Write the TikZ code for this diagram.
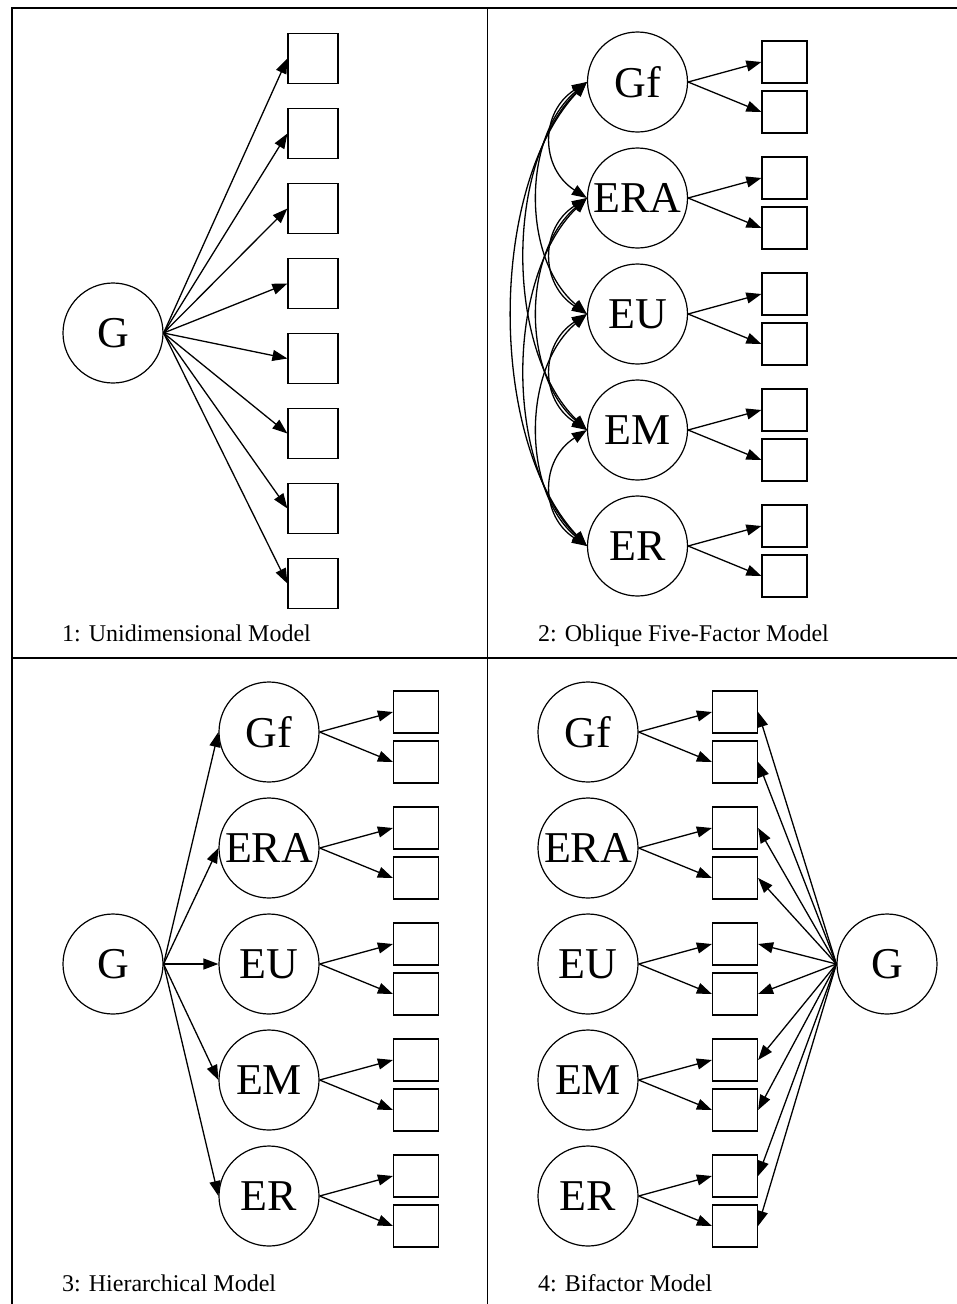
\documentclass[tikz,border=0pt]{standalone}
\usepackage{fontspec}
\setmainfont{Liberation Serif}
\usetikzlibrary{arrows.meta}
\begin{document}
\begin{tikzpicture}[x=1pt,y=-1pt,
  lat/.style={draw,circle,minimum size=100pt,inner sep=0pt,line width=1.2pt,font=\fontsize{44}{44}\selectfont},
  obs/.style={draw,rectangle,minimum width=45pt,minimum height=42pt,inner sep=0pt,line width=1.2pt},
  obsbig/.style={obs,minimum width=50pt,minimum height=50pt},
  load/.style={-{Triangle[length=15pt,width=11pt]},line width=1.3pt},
  cov/.style={{Triangle[length=15pt,width=11pt]}-{Triangle[length=15pt,width=11pt]},line width=1.3pt},
  framebox/.style={line width=1.6pt},
  paneltitle/.style={inner sep=0pt,anchor=base west,font=\fontsize{24}{28}\selectfont}]
\useasboundingbox (0,0) rectangle (957,1304);
% frame
\draw[framebox] (12,1304) -- (12,8) -- (957,8);
\draw[framebox] (487.5,8) -- (487.5,1304);
\draw[framebox] (12,658) -- (957,658);
% panel 1
\node[lat] (p1G) at (113,333) {G};
\foreach \k in {1,...,8} {
  \node[obsbig] (p1b\k) at (313,{58.5+75*(\k-1)}) {};
  \draw[load] (p1G.east) -- (p1b\k.west);
}
\node[paneltitle] (t1) at (62,641) {1: Unidimensional Model};
% panel 2
\foreach \t [count=\i] in {Gf,ERA,EU,EM,ER} {
  \node[lat] (p2f\i) at (637.5,{82+116*(\i-1)}) {\t};
  \node[obs] (p2a\i) at (784.5,{62+116*(\i-1)}) {};
  \node[obs] (p2b\i) at (784.5,{112+116*(\i-1)}) {};
  \draw[load] (p2f\i.east) -- (p2a\i.west);
  \draw[load] (p2f\i.east) -- (p2b\i.west);
}
\foreach \i/\j/\c/\h in {1/2/47/30,2/3/47/30,3/4/47/30,4/5/47/30,1/3/65/55,2/4/65/55,3/5/65/55,1/4/82/80,2/5/82/80,1/5/99/105}
  \draw[cov] (p2f\i.west) .. controls +(-\c,\h) and +(-\c,-\h) .. (p2f\j.west);
\node[paneltitle] (t2) at (538,641) {2: Oblique Five-Factor Model};
% panel 3
\node[lat] (p3G) at (113,964) {G};
\foreach \t [count=\i] in {Gf,ERA,EU,EM,ER} {
  \node[lat] (p3f\i) at (269,{732+116*(\i-1)}) {\t};
  \node[obs] (p3a\i) at (416,{712+116*(\i-1)}) {};
  \node[obs] (p3b\i) at (416,{762+116*(\i-1)}) {};
  \draw[load] (p3f\i.east) -- (p3a\i.west);
  \draw[load] (p3f\i.east) -- (p3b\i.west);
  \draw[load] (p3G.east) -- (p3f\i.west);
}
\node[paneltitle] (t3) at (62,1291) {3: Hierarchical Model};
% panel 4
\node[lat] (p4G) at (887,964) {G};
\foreach \t [count=\i] in {Gf,ERA,EU,EM,ER} {
  \node[lat] (p4f\i) at (588,{732+116*(\i-1)}) {\t};
  \node[obs] (p4a\i) at (735,{712+116*(\i-1)}) {};
  \node[obs] (p4b\i) at (735,{762+116*(\i-1)}) {};
  \draw[load] (p4f\i.east) -- (p4a\i.west);
  \draw[load] (p4f\i.east) -- (p4b\i.west);
  \draw[load] (p4G.west) -- (p4a\i.east);
  \draw[load] (p4G.west) -- (p4b\i.east);
}
\node[paneltitle] (t4) at (538,1291) {4: Bifactor Model};
\end{tikzpicture}
\end{document}
